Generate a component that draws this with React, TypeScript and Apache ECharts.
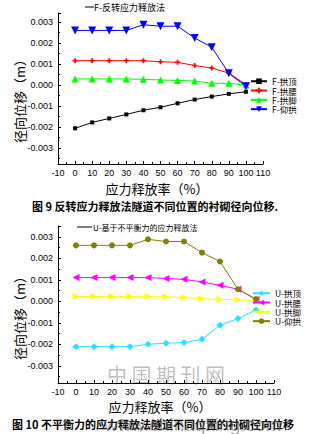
import React, { useEffect, useRef } from "react";
import * as echarts from "echarts";

const releaseRates = [0, 10, 20, 30, 40, 50, 60, 70, 80, 90, 100];

const fNames = ["F-拱顶", "F-拱腰", "F-拱脚", "F-仰拱"];
const fCrown = [-0.00206, -0.00178, -0.00159, -0.0014, -0.0012, -0.00106, -0.00087, -0.00069, -0.00055, -0.00042, -0.00032];
const fHaunch = [0.00116, 0.00116, 0.00116, 0.00116, 0.00116, 0.00111, 0.00108, 0.00093, 0.00081, 0.00057, 0.00002];
const fFoot = [0.00029, 0.00029, 0.00029, 0.00029, 0.00027, 0.00024, 0.00022, 0.00019, 0.00009, 0.00008, 0.0];
const fInvert = [0.0026, 0.0026, 0.0026, 0.0026, 0.00287, 0.0028, 0.0028, 0.00224, 0.0018, 0.00056, -0.00006];

const uNames = ["U-拱顶", "U-拱腰", "U-拱脚", "U-仰拱"];
const uCrown = [-0.00211, -0.00211, -0.00211, -0.00211, -0.002, -0.00195, -0.00192, -0.00177, -0.00112, -0.0008, -0.0004];
const uHaunch = [0.0011, 0.0011, 0.0011, 0.0011, 0.0011, 0.00106, 0.00102, 0.0009, 0.00074, 0.00056, 0.00008];
const uFoot = [0.00022, 0.00022, 0.00022, 0.00022, 0.00022, 0.00021, 0.00017, 0.00012, 0.00008, 0.00007, 0.00003];
const uInvert = [0.0026, 0.0026, 0.0026, 0.0026, 0.00288, 0.00278, 0.00278, 0.00226, 0.00185, 0.00056, 0.0001];

const watermarkChars = ["中", "国", "期", "刊", "网"];

const FONT = "Arial, 'Liberation Sans', 'Noto Sans CJK SC', sans-serif";
const CJK = "'Noto Sans CJK SC', sans-serif";

const pairs = (vals: number[]) => releaseRates.map((x, i) => [x, vals[i]]);

const yLabel = (v: number) => {
  const k = v * 1000;
  if (Math.abs(k - Math.round(k)) > 1e-6) return "";
  return (Math.round(k) / 1000).toFixed(3);
};

function makeX(gridIndex: number) {
  return {
    type: "value",
    gridIndex,
    min: -10,
    max: 110,
    interval: 10,
    axisLine: { onZero: false, lineStyle: { color: "#000", width: 1 } },
    axisTick: { inside: true, length: 3, lineStyle: { color: "#000" } },
    minorTick: { show: true, splitNumber: 2, length: 2, lineStyle: { color: "#000" } },
    axisLabel: { color: "#000", fontSize: 9, fontFamily: FONT, margin: 4 },
    splitLine: { show: false },
  };
}

function makeY(gridIndex: number, min: number, max: number) {
  return {
    type: "value",
    gridIndex,
    min,
    max,
    splitNumber: 7,
    axisLine: { show: true, onZero: false, lineStyle: { color: "#000", width: 1 } },
    axisTick: { show: true, inside: true, length: 3, lineStyle: { color: "#000" } },
    minorTick: { show: true, splitNumber: 2, length: 2, lineStyle: { color: "#000" } },
    axisLabel: { color: "#000", fontSize: 9, fontFamily: FONT, margin: 5, formatter: yLabel, showMinLabel: false, showMaxLabel: false },
    splitLine: { show: false },
  };
}

function line(name: string, vals: number[], idx: number, color: string, symbol: string, size: number, rotate = 0) {
  return {
    type: "line",
    name,
    xAxisIndex: idx,
    yAxisIndex: idx,
    data: pairs(vals),
    symbol,
    symbolSize: size,
    symbolRotate: rotate,
    showAllSymbol: true,
    lineStyle: { color, width: 1 },
    itemStyle: { color, borderWidth: 0 },
  };
}

const PLUS = "path://M2,0H4V2H6V4H4V6H2V4H0V2H2Z";

export default function App() {
  const ref = useRef<HTMLDivElement>(null);
  useEffect(() => {
    if (!ref.current) return;
    const chart = echarts.init(ref.current, null, { renderer: "svg" });
    const wm = watermarkChars.map((c, i) => ({
      type: "text",
      x: 117 + i * 24.5,
      y: 374,
      style: { text: c, fontSize: 20, fontFamily: CJK, fill: "rgba(110,110,110,0.45)", textAlign: "center", textVerticalAlign: "middle" },
    }));
    chart.setOption({
      animation: false,
      backgroundColor: "#fff",
      grid: [
        { left: 58, top: 13, width: 205, height: 151 },
        { left: 58, top: 226, width: 216, height: 157 },
      ],
      xAxis: [makeX(0), makeX(1)],
      yAxis: [makeY(0, -0.00376, 0.00343), makeY(1, -0.0038, 0.0035)],
      legend: [
        {
          data: fNames,
          orient: "vertical",
          left: 250,
          top: 77,
          itemWidth: 16,
          itemHeight: 7,
          itemGap: 0.8,
          textStyle: { fontSize: 8.5, lineHeight: 8.5, color: "#000", fontFamily: CJK },
          padding: 0,
        },
        {
          data: uNames,
          orient: "vertical",
          left: 252,
          top: 289,
          itemWidth: 17,
          itemHeight: 7,
          itemGap: 0.8,
          textStyle: { fontSize: 8.5, lineHeight: 8.5, color: "#000", fontFamily: CJK },
          padding: 0,
        },
      ],
      series: [
        line(fNames[0], fCrown, 0, "#000000", "rect", 4),
        line(fNames[1], fHaunch, 0, "#ff0000", PLUS, 5),
        line(fNames[2], fFoot, 0, "#00ff00", "triangle", 7),
        line(fNames[3], fInvert, 0, "#0000ff", "triangle", 8, 180),
        line(uNames[0], uCrown, 1, "#22e5ff", "diamond", 7),
        line(uNames[1], uHaunch, 1, "#ff00ff", "triangle", 7, 90),
        line(uNames[2], uFoot, 1, "#ffff00", "triangle", 7, -90),
        line(uNames[3], uInvert, 1, "#808000", "circle", 6),
      ],
      graphic: [
        { type: "line", shape: { x1: 85, y1: 7, x2: 94, y2: 7 }, style: { stroke: "#000", lineWidth: 1 } },
        { type: "text", x: 94, y: 7, style: { text: "F-反转应力释放法", fontSize: 9, fontFamily: CJK, fill: "#000", textVerticalAlign: "middle" } },
        { type: "line", shape: { x1: 77, y1: 227, x2: 92, y2: 227 }, style: { stroke: "#000", lineWidth: 1 } },
        { type: "text", x: 93, y: 227, style: { text: "U-基于不平衡力的应力释放法", fontSize: 8, fontFamily: CJK, fill: "#000", textVerticalAlign: "middle" } },
        { type: "text", x: 19, y: 98, rotation: Math.PI / 2, style: { text: "径向位移（m）", fontSize: 13, fontFamily: CJK, fill: "#000", textAlign: "center", textVerticalAlign: "middle" } },
        { type: "text", x: 19, y: 315, rotation: Math.PI / 2, style: { text: "径向位移（m）", fontSize: 13, fontFamily: CJK, fill: "#000", textAlign: "center", textVerticalAlign: "middle" } },
        { type: "text", x: 157, y: 188, style: { text: "应力释放率（%）", fontSize: 13, fontFamily: CJK, fill: "#000", textAlign: "center", textVerticalAlign: "middle" } },
        { type: "text", x: 160, y: 406, style: { text: "应力释放率（%）", fontSize: 13, fontFamily: CJK, fill: "#000", textAlign: "center", textVerticalAlign: "middle" } },
        { type: "text", x: 32, y: 206, style: { text: "图 9 反转应力释放法隧道不同位置的衬砌径向位移.", fontSize: 11, fontWeight: "bold", fontFamily: CJK, fill: "#000", textVerticalAlign: "middle" } },
        { type: "text", x: 12, y: 424, style: { text: "图 10 不平衡力的应力释放法隧道不同位置的衬砌径向位移", fontSize: 11, fontWeight: "bold", fontFamily: CJK, fill: "#000", textVerticalAlign: "middle" } },
        ...wm,
        { type: "text", x: 104, y: 424, style: { text: "www.chinaqking.com", fontSize: 19, fontFamily: FONT, fill: "rgba(90,90,90,0.55)", textVerticalAlign: "middle" } },
      ],
    });
    return () => chart.dispose();
  }, []);
  return <div ref={ref} style={{ position: "fixed", left: 0, top: 0, width: 332, height: 434 }} />;
}
